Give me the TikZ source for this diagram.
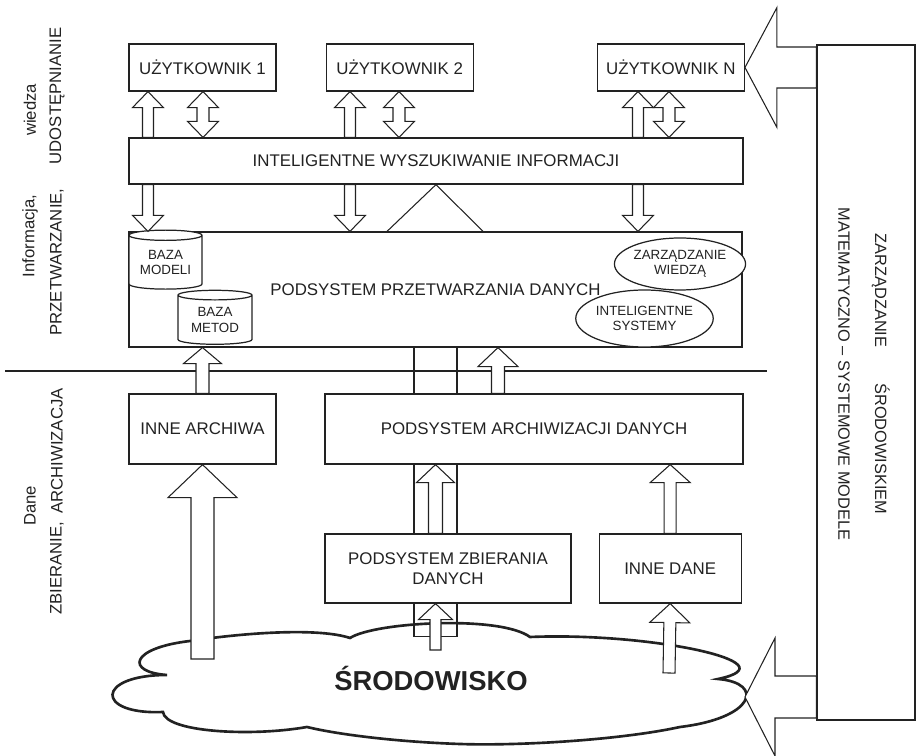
\documentclass[tikz,border=0pt]{standalone}
\usepackage{fontspec}
\setmainfont{Liberation Sans}
\usepackage{tikz}
\usetikzlibrary{calc,positioning,shapes.geometric}
\definecolor{ink}{HTML}{222222}

\tikzset{
  blockarr/.style n args={3}{to path={
    let \p1=(\tikztostart), \p2=(\tikztotarget), \p3=($(\p2)!#3!(\p1)$) in
    ($(\p1)!#1!90:(\p2)$) -- ($(\p3)!#1!-90:(\p1)$) -- ($(\p3)!#2!-90:(\p1)$)
    -- (\p2) -- ($(\p3)!#2!90:(\p1)$) -- ($(\p3)!#1!90:(\p1)$)
    -- ($(\p1)!#1!-90:(\p2)$) -- cycle}},
  dblarr/.style n args={3}{to path={
    let \p1=(\tikztostart), \p2=(\tikztotarget), \p3=($(\p2)!#3!(\p1)$), \p4=($(\p1)!#3!(\p2)$) in
    (\p1) -- ($(\p4)!#2!90:(\p2)$) -- ($(\p4)!#1!90:(\p2)$) -- ($(\p3)!#1!-90:(\p1)$)
    -- ($(\p3)!#2!-90:(\p1)$) -- (\p2) -- ($(\p3)!#2!90:(\p1)$) -- ($(\p3)!#1!90:(\p1)$)
    -- ($(\p4)!#1!-90:(\p2)$) -- ($(\p4)!#2!-90:(\p2)$) -- cycle}}
}

\begin{document}
\begin{tikzpicture}[x=0.02cm, y=-0.02cm, line join=miter,
    every node/.style={font=\fontsize{9.6}{11.4}\selectfont, align=center, text=ink},
    box/.style={draw=ink, line width=0.7pt, fill=white, inner sep=0pt},
    arr/.style={draw=ink, line width=0.6pt, fill=white},
    cyl/.style={draw=ink, line width=0.7pt, fill=white, cylinder, shape border rotate=90, aspect=0.2, inner sep=0pt, font=\fontsize{7.6}{8.6}\selectfont},
    ell/.style={draw=ink, line width=0.7pt, fill=white, ellipse, inner sep=0pt, font=\fontsize{7.6}{8.6}\selectfont},
    side/.style={rotate=90, font=\fontsize{9.5}{11}\selectfont}]
    \useasboundingbox (0,0) rectangle (921,756);

    % users and search
    \node[box, minimum width=2.94cm, minimum height=0.94cm] (u1) at (202.5,67.5) {UŻYTKOWNIK 1};
    \node[box, minimum width=2.94cm, minimum height=0.94cm, right=0.98cm of u1] (u2) {UŻYTKOWNIK 2};
    \node[box, minimum width=2.94cm, minimum height=0.94cm, right=2.46cm of u2] (uN) {UŻYTKOWNIK N};
    \node[box, minimum width=12.28cm, minimum height=0.92cm] (search) at (436,161) {INTELIGENTNE WYSZUKIWANIE INFORMACJI};

    % processing subsystem
    \node[box, minimum width=12.26cm, minimum height=2.30cm] (proc) at (435.5,289.5) {PODSYSTEM PRZETWARZANIA DANYCH};
    \node[cyl, minimum width=1.46cm, minimum height=1.18cm] (bmod) at (165.5,262.5) {BAZA\\MODELI};
    \node[cyl, minimum width=1.48cm, minimum height=1.08cm] (bmet) at (215,320) {BAZA\\METOD};
    \node[ell, minimum width=2.48cm, minimum height=1.04cm] (zw) at (680,264) {ZARZĄDZANIE\\WIEDZĄ};
    \node[ell, minimum width=2.50cm, minimum height=1.14cm] (isys) at (644.5,318.5) {INTELIGENTNE\\SYSTEMY};

    \draw[ink, line width=1.4pt] (5,371) -- (767,371);

    % archiving and collecting
    \node[box, minimum width=2.94cm, minimum height=1.40cm] (innearch) at (202.5,429) {INNE ARCHIWA};
    \node[box, minimum width=8.36cm, minimum height=1.40cm] (arch) at (534,429) {PODSYSTEM ARCHIWIZACJI DANYCH};
    \node[box, minimum width=4.92cm, minimum height=1.38cm] (zbier) at (448,568.5) {PODSYSTEM ZBIERANIA\\DANYCH};
    \node[box, minimum width=2.84cm, minimum height=1.38cm, right=0.54cm of zbier] (innedane) {INNE DANE};

    % environment management
    \node[box, minimum width=1.96cm, minimum height=13.5cm] (envbox) at (866,382.5) {};
    \node[rotate=-90, font=\fontsize{9.3}{11}\selectfont] (envtxt) at (864,374) {ZARZĄDZANIE\hspace{2.2em}ŚRODOWISKIEM\\[10pt]MATEMATYCZNO -- SYSTEMOWE MODELE};

    % cloud
    \draw[ink, line width=1.5pt, fill=white] (350,638) .. controls (375,622) and (500,615) .. (530,637)
      .. controls (650,632) and (795,663) .. (718,679)
      .. controls (765,683) and (755,718) .. (680,727)
      .. controls (620,740) and (520,746) .. (460,744)
      .. controls (400,742) and (340,735) .. (307,727)
      .. controls (250,737) and (165,732) .. (163,712)
      .. controls (95,715) and (95,675) .. (167,675)
      .. controls (125,672) and (130,648) .. (190,641)
      .. controls (250,632) and (320,628) .. (350,638) -- cycle;
    \node[font=\fontsize{15.6}{18}\selectfont\bfseries, anchor=base] (env) at (431,691) {ŚRODOWISKO};

    % side labels
    \node[side] (lwiedza) at (30,110) {wiedza};
    \node[side] (ludost) at (57,96) {UDOSTĘPNIANIE};
    \node[side] (linfo) at (30,236) {Informacja,};
    \node[side] (lprzetw) at (57,262) {PRZETWARZANIE,};
    \node[side] (ldane) at (30,506) {Dane};
    \node[side] (larch) at (57,451) {ARCHIWIZACJA};
    \node[side] (lzbier) at (57,568) {ZBIERANIE,};

    % columns
    \foreach \n/\x in {k1/148, d1/203, k2/350, d2/399, kn/638, dn/669, ch1/414, ch2/457, chm/435.5, ap/498}
      \coordinate (\n) at (\x,0);
    \coordinate (zsrc) at (435.5,650);
    \coordinate (asrc) at (202.5,659);
    \coordinate (dsrc) at (669,673);
    \coordinate (envtip) at (745,697);

    % user arrows
    \foreach \u/\k/\d in {u1/k1/d1, u2/k2/d2, uN/kn/dn} {
      \draw[arr] (search.north -| \k) to[blockarr={1.1mm}{3.1mm}{3.2mm}] (\u.south -| \k);
      \draw[arr] (search.north -| \d) to[dblarr={1.2mm}{3.1mm}{3.2mm}] (\u.south -| \d);
      \draw[arr] (search.south -| \k) to[blockarr={1.1mm}{3.1mm}{3.2mm}] (proc.north -| \k);
    }
    \draw[ink, line width=0.6pt] ([xshift=-0.97cm]proc.north) -- (search.south) -- ([xshift=0.95cm]proc.north);

    % channels
    \foreach \c in {ch1, ch2} {
      \draw[ink, line width=0.7pt] (proc.south -| \c) -- (arch.north -| \c);
      \draw[ink, line width=0.7pt] (arch.south -| \c) -- (zbier.north -| \c);
    }
    \draw[ink, line width=0.7pt] (zbier.south -| ch1) -- ++(0,33) -- ++(16,0);
    \draw[ink, line width=0.7pt] (zbier.south -| ch2) -- ++(0,33) -- ++(-16,0);

    % data arrows
    \draw[arr] (arch.north -| ap) to[blockarr={1.3mm}{4mm}{3.8mm}] (proc.south -| ap);
    \draw[arr] (innearch.north) to[blockarr={1.3mm}{3.8mm}{3.2mm}] (proc.south -| innearch.north);
    \draw[arr] (zbier.north -| chm) to[blockarr={1.4mm}{3.8mm}{3.6mm}] (arch.south -| chm);
    \draw[arr] (innedane.north) to[blockarr={1.2mm}{4mm}{3.6mm}] (arch.south -| innedane.north);
    \draw[arr] (asrc) to[blockarr={2.3mm}{6.9mm}{6.6mm}] (innearch.south);
    \draw[arr] (zsrc) to[blockarr={1.1mm}{3.4mm}{3.2mm}] (zbier.south -| zsrc);
    \draw[arr] (dsrc) to[blockarr={1.2mm}{4mm}{3.8mm}] (innedane.south);

    % management arrows
    \draw[arr] (envbox.west |- uN.east) to[blockarr={4.1mm}{12mm}{6.4mm}] (uN.east);
    \draw[arr] (envbox.west |- envtip) to[blockarr={4.2mm}{11.8mm}{6mm}] (envtip);
\end{tikzpicture}
\end{document}
